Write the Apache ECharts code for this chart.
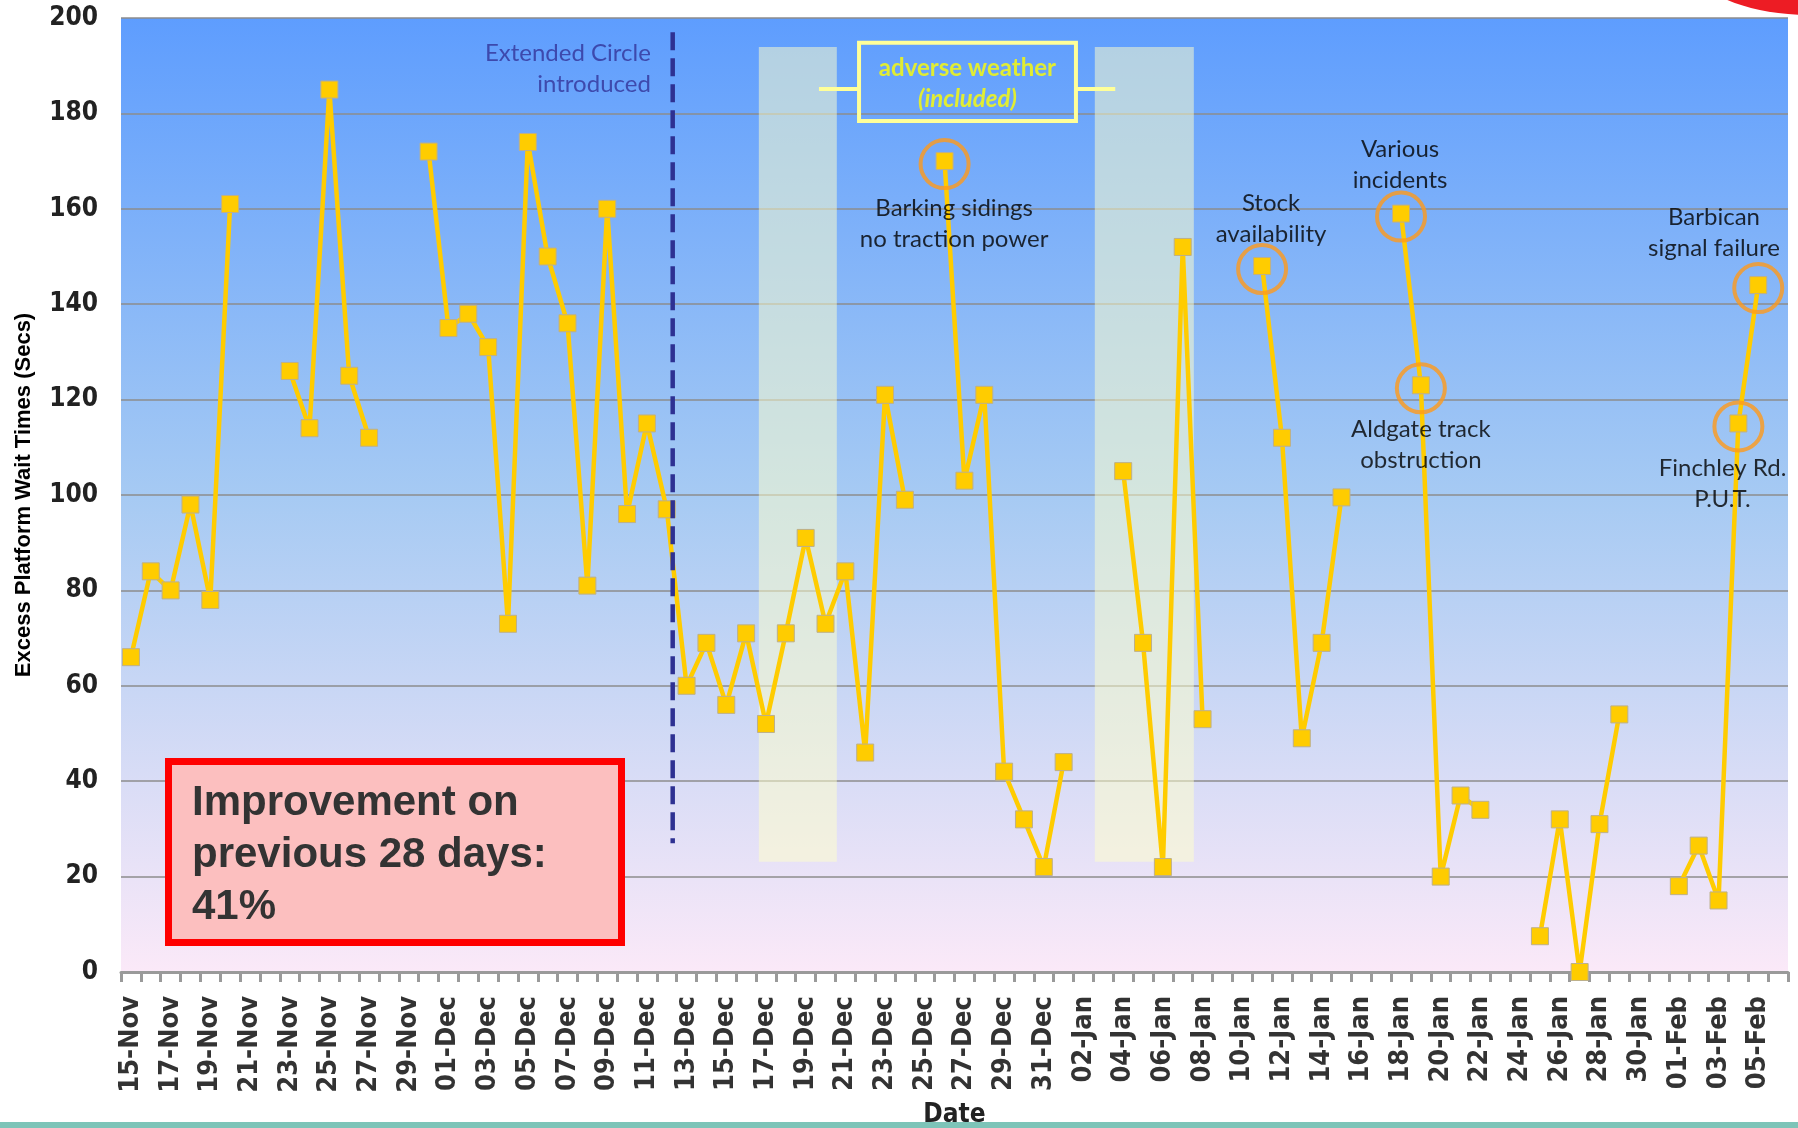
<!DOCTYPE html>
<html>
<head>
<meta charset="utf-8">
<script src="https://cdn.jsdelivr.net/npm/echarts@6/dist/echarts.min.js"></script>
<style>
html,body{margin:0;padding:0;background:#fff;}
#chart{width:1798px;height:1128px;}
</style>
</head>
<body>
<div id="chart"></div>
<script>
// ---------- DATA ----------
const categories = [
  '15-Nov','16-Nov','17-Nov','18-Nov','19-Nov','20-Nov','21-Nov','22-Nov','23-Nov','24-Nov','25-Nov','26-Nov','27-Nov','28-Nov','29-Nov','30-Nov',
  '01-Dec','02-Dec','03-Dec','04-Dec','05-Dec','06-Dec','07-Dec','08-Dec','09-Dec','10-Dec','11-Dec','12-Dec','13-Dec','14-Dec','15-Dec','16-Dec',
  '17-Dec','18-Dec','19-Dec','20-Dec','21-Dec','22-Dec','23-Dec','24-Dec','25-Dec','26-Dec','27-Dec','28-Dec','29-Dec','30-Dec','31-Dec',
  '01-Jan','02-Jan','03-Jan','04-Jan','05-Jan','06-Jan','07-Jan','08-Jan','09-Jan','10-Jan','11-Jan','12-Jan','13-Jan','14-Jan','15-Jan','16-Jan',
  '17-Jan','18-Jan','19-Jan','20-Jan','21-Jan','22-Jan','23-Jan','24-Jan','25-Jan','26-Jan','27-Jan','28-Jan','29-Jan','30-Jan','31-Jan',
  '01-Feb','02-Feb','03-Feb','04-Feb','05-Feb','06-Feb'
];
const waitTimes = [
  66,84,80,98,78,161,null,null,126,114,185,125,112,null,null,172,
  135,138,131,73,174,150,136,81,160,96,115,97,60,69,56,71,
  52,71,91,73,84,46,121,99,null,170,103,121,42,32,22,
  44,null,null,105,69,22,152,53,null,null,148,112,49,69,99.5,null,
  null,159,123,20,37,34,null,null,7.5,32,0,31,54,null,null,
  18,26.5,15,115,144,null
];
const yTicks = [0,20,40,60,80,100,120,140,160,180,200];
const circledDates = ['26-Dec','11-Jan','18-Jan','19-Jan','04-Feb','05-Feb'];
const weatherBands = [[31.64,35.57],[48.57,53.56]];   // in day-index units
const weatherBandRange = [23.1,193.9];
const extendedCircleDay = 27.3;
const extendedCircleRange = [27,197];
const incidentNotes = [
  {text:'Barking sidings\nno traction power', at:[41.48,156.8]},
  {text:'Stock\navailability', at:[57.45,158]},
  {text:'Various\nincidents', at:[63.95,169.2]},
  {text:'Aldgate track\nobstruction', at:[65.0,110.5]},
  {text:'Barbican\nsignal failure', at:[79.77,155]},
  {text:'Finchley Rd.\nP.U.T.', at:[80.2,102.3]}
];
const summaryText = 'Improvement on\nprevious 28 days:\n41%';

// ---------- CHART ----------
const chart = echarts.init(document.getElementById('chart'), null, {renderer:'canvas'});
const nCat = categories.length;
const circled = categories.map((c,i)=> circledDates.indexOf(c) >= 0 ? waitTimes[i] : null);
const noteFont = 'Lato, "Open Sans", sans-serif';
const axisFont = '"Liberation Sans Narrow", "DejaVu Sans Condensed", sans-serif';

const option = {
  animation:false,
  backgroundColor:'#ffffff',
  grid:{
    left:121, right:10, top:18, bottom:156, show:true, borderWidth:0,
    containLabel:false, outerBoundsMode:'none',
    backgroundColor:{type:'linear',x:0,y:0,x2:0,y2:1,colorStops:[
      {offset:0,color:'#5e9dfe'},{offset:0.5,color:'#a6caf3'},{offset:1,color:'#fbe9f8'}]}
  },
  xAxis:[{
    type:'category', data:categories, boundaryGap:true,
    axisLine:{show:true,lineStyle:{color:'#9a9a9a',width:3}},
    axisTick:{show:true,interval:0,length:10,lineStyle:{color:'#9a9a9a',width:3}},
    axisLabel:{interval:1,rotate:90,margin:24,fontFamily:axisFont,fontWeight:'bold',fontSize:27,color:'#333'},
    splitLine:{show:false},
    name:'Date', nameLocation:'middle', nameGap:130,
    nameTextStyle:{fontFamily:axisFont,fontWeight:'bold',fontSize:26,color:'#222'}
  },{
    type:'value', min:-0.5, max:nCat-0.5, show:false, position:'top',
    splitLine:{show:false}
  }],
  yAxis:{
    type:'value', min:yTicks[0], max:yTicks[yTicks.length-1], interval:20,
    axisLine:{show:false}, axisTick:{show:false},
    axisLabel:{margin:23,fontFamily:axisFont,fontWeight:'bold',fontSize:26,color:'#222'},
    splitLine:{show:true,lineStyle:{color:'#8c8c8c',width:1.5}},
    name:'Excess Platform Wait Times (Secs)', nameLocation:'middle', nameGap:86, nameRotate:90,
    nameTextStyle:{fontFamily:'"Liberation Sans", Arial, sans-serif',fontWeight:'bold',fontSize:22,color:'#000'}
  },
  series:[
    {
      name:'Excess wait', type:'line', data:waitTimes, connectNulls:false, z:3,
      symbol:'rect', symbolSize:17, showSymbol:true, showAllSymbol:true,
      itemStyle:{color:'#ffcc00',borderColor:'#bdb08a',borderWidth:1},
      lineStyle:{color:'#ffcc00',width:4.5}
    },
    {
      name:'Circled', type:'scatter', data:circled, z:4,
      symbol:'circle', symbolSize:48, symbolOffset:[0,3],
      itemStyle:{color:'rgba(0,0,0,0)',borderColor:'#ff9a1a',borderWidth:4}
    },
    {
      name:'Weather bands', type:'line', xAxisIndex:1, data:[], z:10, silent:true,
      markArea:{silent:true,
        itemStyle:{color:'rgba(255,255,204,0.52)'},
        data: weatherBands.map(b=>[{coord:[b[0],weatherBandRange[1]]},{coord:[b[1],weatherBandRange[0]]}])
      }
    },
    {
      name:'Weather box', type:'line', xAxisIndex:1, data:[], z:11, silent:true,
      markArea:{silent:true,
        itemStyle:{color:'rgba(0,0,0,0)',borderColor:'#ffff99',borderWidth:4},
        data:[[{coord:[36.69,194.8]},{coord:[47.62,178.4]}]]
      },
      markLine:{silent:true, symbol:['none','none'], label:{show:false},
        lineStyle:{color:'#ffff99',width:4,type:'solid'},
        data:[[{coord:[34.67,185.1]},{coord:[36.69,185.1]}],[{coord:[47.62,185.1]},{coord:[49.6,185.1]}]]
      }
    },
    {
      name:'Extended Circle', type:'line', xAxisIndex:1, z:6, silent:true,
      data:[[extendedCircleDay,extendedCircleRange[1]],[extendedCircleDay,extendedCircleRange[0]]],
      symbol:'none', lineStyle:{color:'#2e3192',width:4.5,type:[18,8]}
    },
    {
      name:'Notes', type:'scatter', xAxisIndex:1, z:12, silent:true,
      symbol:'circle', symbolSize:1, itemStyle:{color:'rgba(0,0,0,0)'},
      label:{show:true,position:'inside',fontFamily:noteFont,fontSize:24,lineHeight:31,color:'#000',align:'center',verticalAlign:'middle'},
      data: incidentNotes.map(n=>({value:n.at, label:{formatter:n.text}})).concat([
        {value:[extendedCircleDay-1.1,189.3], label:{formatter:'Extended Circle\nintroduced',position:'inside',align:'right',color:'#333399'}},
        {value:[42.15,186.3], label:{formatter:'{a|adverse weather}\n{b|(included)}',
          rich:{a:{fontFamily:noteFont,fontWeight:'bold',fontSize:24,color:'#ffff00',lineHeight:31},
                b:{fontFamily:noteFont,fontWeight:'bold',fontStyle:'italic',fontSize:24,color:'#ffff00',lineHeight:31}}}}
      ])
    }
  ],
  graphic:[
    {type:'rect', z:100, shape:{x:168.5,y:761.5,width:453,height:181},
     style:{fill:'#fcbfbf',stroke:'#ff0000',lineWidth:7}},
    {type:'text', z:101, x:192, y:777,
     style:{text:summaryText, font:'bold 42px "Liberation Sans", Arial, sans-serif', fill:'#333333', lineHeight:52, textVerticalAlign:'top'}},
    {type:'ellipse', z:100, shape:{cx:1810,cy:-45,rx:125,ry:60}, style:{fill:'#ed1c24'}},
    {type:'rect', z:100, shape:{x:0,y:1122,width:1798,height:6}, style:{fill:'#7dc4b8'}}
  ]
};
chart.setOption(option);
</script>
</body>
</html>
